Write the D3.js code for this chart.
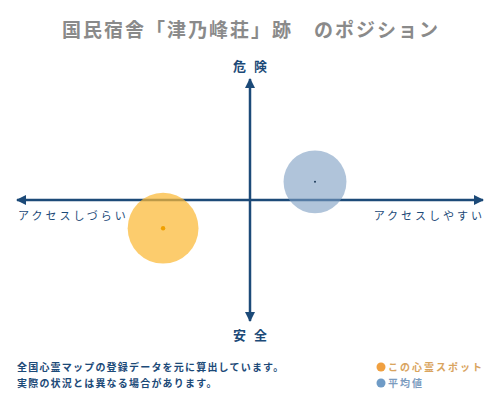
<!DOCTYPE html>
<html>
<head>
<meta charset="utf-8">
<script src="https://cdn.jsdelivr.net/npm/d3@7"></script>
<style>
  body { margin: 0; background: #fff; }
  text { font-family: "Noto Sans CJK JP", "Noto Sans", sans-serif; }
</style>
</head>
<body>
<svg id="chart"></svg>
<script>
// Chart data
var title = "国民宿舎「津乃峰荘」跡　のポジション";
var axisLabels = {top: "危険", bottom: "安全", left: "アクセスしづらい", right: "アクセスしやすい"};
var seriesNames = ["この心霊スポット", "平均値"];
var accessValues = [-0.373, 0.279];   // x: access
var dangerValues = [-0.233, 0.15];    // y: danger
var spreadValues = [0.152, 0.135];    // circle size
var notes = ["全国心霊マップの登録データを元に算出しています。", "実際の状況とは異なる場合があります。"];

// SVG size params
var width = 500;
var height = 400;
var navy = "#1c4a78";

var svg = d3.select("#chart")
    .attr("width", width)
    .attr("height", height);

// Scales
var x = d3.scaleLinear().domain([-1, 1]).range([17, 483]);
var y = d3.scaleLinear().domain([-1, 1]).range([321, 79]);

// Arrow marker
svg.append("defs").append("marker")
    .attr("id", "arrow")
    .attr("viewBox", "0 0 10 10")
    .attr("refX", 9)
    .attr("refY", 5)
    .attr("markerWidth", 4)
    .attr("markerHeight", 4)
    .attr("markerUnits", "strokeWidth")
    .attr("orient", "auto-start-reverse")
  .append("path")
    .attr("d", "M0,0L10,5L0,10z")
    .attr("fill", navy);

// Title
svg.append("text")
    .attr("x", width / 2 + 1)
    .attr("y", 37)
    .attr("text-anchor", "middle")
    .attr("font-size", 19)
    .attr("font-weight", "bold")
    .attr("letter-spacing", 2)
    .attr("fill", "#8a8a8a")
    .text(title);

// Axes
var axes = svg.append("g").attr("stroke", navy).attr("stroke-width", 2.5);
axes.append("line")
    .attr("x1", x(-1)).attr("x2", x(1))
    .attr("y1", y(0)).attr("y2", y(0))
    .attr("marker-start", "url(#arrow)")
    .attr("marker-end", "url(#arrow)");
axes.append("line")
    .attr("x1", x(0)).attr("x2", x(0))
    .attr("y1", y(1)).attr("y2", y(-1))
    .attr("marker-start", "url(#arrow)")
    .attr("marker-end", "url(#arrow)");

// Axis labels
var labelG = svg.append("g").attr("fill", navy).attr("font-weight", "bold");
labelG.append("text")
    .attr("x", x(0) + 4).attr("y", y(1) - 8)
    .attr("text-anchor", "middle")
    .attr("font-size", 13)
    .attr("letter-spacing", 8)
    .text(axisLabels.top);
labelG.append("text")
    .attr("x", x(0) + 4).attr("y", y(-1) + 19)
    .attr("text-anchor", "middle")
    .attr("font-size", 13)
    .attr("letter-spacing", 8)
    .text(axisLabels.bottom);
labelG.append("text")
    .attr("x", x(-1) + 1).attr("y", y(0) + 20)
    .attr("font-size", 11)
    .attr("font-weight", "normal")
    .attr("letter-spacing", 3)
    .text(axisLabels.left);
labelG.append("text")
    .attr("x", x(1) + 2).attr("y", y(0) + 20)
    .attr("text-anchor", "end")
    .attr("font-size", 11)
    .attr("font-weight", "normal")
    .attr("letter-spacing", 3)
    .text(axisLabels.right);

// Bubbles
var fills = ["#fbb934", "#7b9dc1"];
var opac = [0.72, 0.6];
var dots = ["#f0a000", "#1c3a5a"];
var dotR = [2.2, 1];
var points = seriesNames.map(function(name, i) {
  return {name: name, ax: accessValues[i], dy: dangerValues[i], sp: spreadValues[i], i: i};
});

svg.append("g").selectAll("circle")
  .data(points)
  .enter().append("circle")
    .attr("cx", d => x(d.ax))
    .attr("cy", d => y(d.dy))
    .attr("r", d => x(d.sp) - x(0))
    .attr("fill", d => fills[d.i])
    .attr("fill-opacity", d => opac[d.i]);

svg.append("g").selectAll("circle")
  .data(points)
  .enter().append("circle")
    .attr("cx", d => x(d.ax))
    .attr("cy", d => y(d.dy))
    .attr("r", d => dotR[d.i])
    .attr("fill", d => dots[d.i]);

// Notes
svg.append("g").selectAll("text")
  .data(notes)
  .enter().append("text")
    .attr("x", 17)
    .attr("y", (d, i) => 371 + i * 16)
    .attr("font-size", 10)
    .attr("font-weight", "bold")
    .attr("letter-spacing", 1.2)
    .attr("fill", navy)
    .text(d => d);

// Legend
var legendDot = ["#f0a040", "#6f9bc6"];
var legendText = ["#d9a45e", "#7c9cbf"];
var legend = svg.append("g").selectAll("g")
  .data(seriesNames)
  .enter().append("g")
    .attr("transform", (d, i) => "translate(381," + (367 + i * 16) + ")");
legend.append("circle")
    .attr("r", 4.5)
    .attr("fill", (d, i) => legendDot[i]);
legend.append("text")
    .attr("x", 7)
    .attr("y", 4)
    .attr("font-size", 10)
    .attr("font-weight", "bold")
    .attr("letter-spacing", 2)
    .attr("fill", (d, i) => legendText[i])
    .text(d => d);
</script>
</body>
</html>
